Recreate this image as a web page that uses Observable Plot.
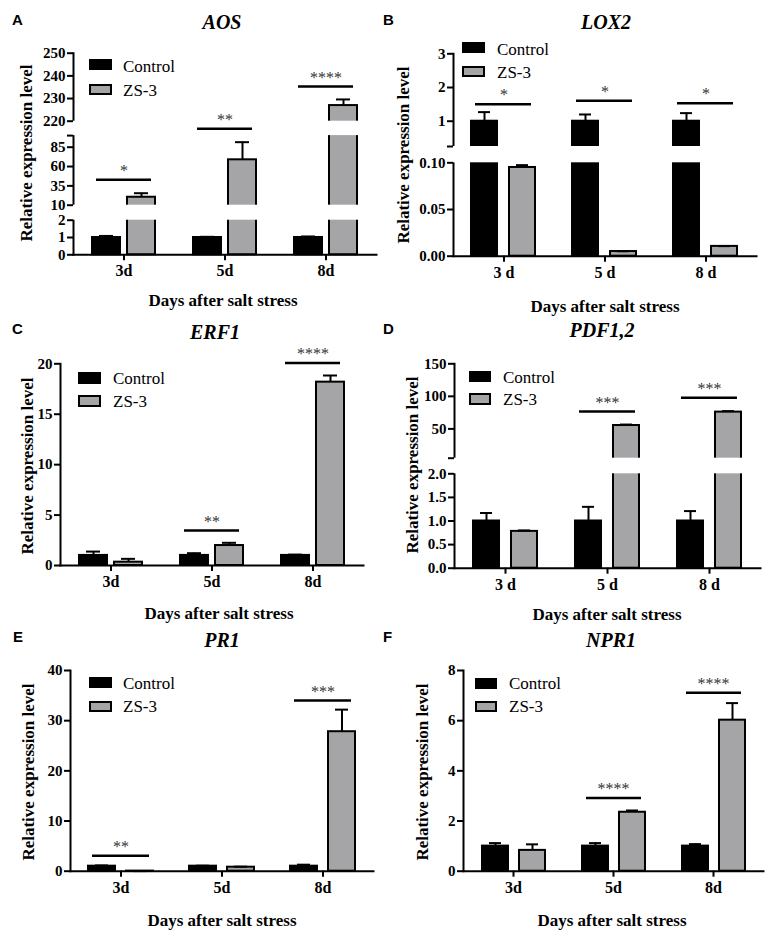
<!DOCTYPE html>
<html>
<head>
<meta charset="utf-8">
<script src="https://cdn.jsdelivr.net/npm/d3@7"></script>
<script src="https://cdn.jsdelivr.net/npm/@observablehq/plot@0.6"></script>
<style>
  html, body { margin: 0; padding: 0; background: #fff; }
  #fig { position: relative; width: 767px; height: 931px; overflow: hidden; font-family: "Liberation Serif", "Times New Roman", serif; color: #000; }
  .panel { position: absolute; width: 384px; height: 310px; }
  .panel svg { position: absolute; left: 0; top: 0; overflow: visible; }
  .letter { position: absolute; font-family: "Liberation Sans", Arial, sans-serif; font-weight: bold; font-size: 15px; line-height: 1; transform: translateY(-50%); }
  .title { position: absolute; font-family: "Liberation Serif", "Times New Roman", serif; font-weight: bold; font-style: italic; font-size: 20px; line-height: 1; white-space: nowrap; transform: translate(-50%, -50%); }
  .ytitle { position: absolute; font-family: "Liberation Serif", "Times New Roman", serif; font-weight: bold; font-size: 17px; line-height: 1; white-space: nowrap; transform: translate(-50%, -50%) rotate(-90deg); }
  .xtitle { position: absolute; font-family: "Liberation Serif", "Times New Roman", serif; font-weight: bold; font-size: 17px; line-height: 1; white-space: nowrap; transform: translate(-50%, -50%); }
  .sw { position: absolute; box-sizing: border-box; border: 2px solid #000; }
  .lt { position: absolute; font-family: "Liberation Serif", "Times New Roman", serif; font-size: 17px; line-height: 1; white-space: nowrap; transform: translateY(-50%); }
</style>
</head>
<body>
<div id="fig"></div>
<script>
// ---------- shared categories ----------
const days = ["3d", "5d", "8d"];
const daysSpaced = ["3 d", "5 d", "8 d"];
const groups = ["Control", "ZS-3"];
const xTitleText = "Days after salt stress";
const yTitleText = "Relative expression level";

// ---------- A: AOS ----------
const aosControl = [1.0, 1.0, 1.0];
const aosControlErr = [0.09, 0.04, 0.06];
const aosZS3 = [20.3, 68.7, 226.9];
const aosZS3Err = [5.2, 22.8, 2.7];
const aosSigDays = ["3d", "5d", "8d"];
const aosSigY = [43, 157, 235.3];
const aosSigStars = ["*", "**", "****"];
const aosBreaks = [0, 2, 10, 100, 220, 250];
const aosTicks = [0, 1, 2, 10, 35, 60, 85, 100, 220, 230, 240, 250];
const aosHiddenTicks = [100];

// ---------- B: LOX2 ----------
const loxControl = [1.0, 1.0, 1.0];
const loxControlErr = [0.27, 0.2, 0.24];
const loxZS3 = [0.095, 0.005, 0.0105];
const loxZS3Err = [0.0025, 0.0003, 0.0003];
const loxSigDays = ["3 d", "5 d", "8 d"];
const loxSigY = [1.5, 1.61, 1.53];
const loxSigStars = ["*", "*", "*"];
const loxBreaks = [0, 0.1, 0.25, 3];
const loxTicks = [0, 0.05, 0.1, 0.25, 1, 2, 3];
const loxHiddenTicks = [0.25];

// ---------- C: ERF1 ----------
const erfControl = [1.0, 1.0, 1.0];
const erfControlErr = [0.38, 0.22, 0.08];
const erfZS3 = [0.33, 1.98, 18.18];
const erfZS3Err = [0.33, 0.27, 0.66];
const erfSigDays = ["5d", "8d"];
const erfSigY = [3.47, 20.07];
const erfSigStars = ["**", "****"];
const erfBreaks = [0, 20];
const erfTicks = [0, 5, 10, 15, 20];
const erfHiddenTicks = [];

// ---------- D: PDF1,2 ----------
const pdfControl = [1.0, 1.0, 1.0];
const pdfControlErr = [0.17, 0.3, 0.21];
const pdfZS3 = [0.78, 55.2, 75.8];
const pdfZS3Err = [0.02, 1.5, 1.5];
const pdfSigDays = ["5 d", "8 d"];
const pdfSigY = [76.8, 97.9];
const pdfSigStars = ["***", "***"];
const pdfBreaks = [0, 2, 5, 150];
const pdfTicks = [0, 0.5, 1, 1.5, 2, 5, 50, 100, 150];
const pdfHiddenTicks = [5];

// ---------- E: PR1 ----------
const prControl = [1.0, 1.0, 1.0];
const prControlErr = [0.15, 0.1, 0.3];
const prZS3 = [0.02, 0.8, 27.8];
const prZS3Err = [0, 0.1, 4.4];
const prSigDays = ["3d", "8d"];
const prSigY = [3.1, 34.0];
const prSigStars = ["**", "***"];
const prBreaks = [0, 40];
const prTicks = [0, 10, 20, 30, 40];
const prHiddenTicks = [];

// ---------- F: NPR1 ----------
const nprControl = [1.0, 1.0, 1.0];
const nprControlErr = [0.12, 0.12, 0.08];
const nprZS3 = [0.83, 2.35, 6.02];
const nprZS3Err = [0.24, 0.07, 0.68];
const nprSigDays = ["5d", "8d"];
const nprSigY = [2.92, 7.11];
const nprSigStars = ["****", "****"];
const nprBreaks = [0, 8];
const nprTicks = [0, 2, 4, 6, 8];
const nprHiddenTicks = [];

// ---------- styles ----------
const colControl = "#000000";
const colZS3 = "#a5a5a8";
const colStars = "#333333";

const fmtPlain = hidden => d => hidden.includes(d) ? "" : String(d);
const fmtFixed = (hidden, below, digits) => d => hidden.includes(d) ? "" : (d <= below ? d.toFixed(digits) : String(d));

const panels = [
  {letter: "A", gene: "AOS", cats: days, control: aosControl, controlErr: aosControlErr, zs3: aosZS3, zs3Err: aosZS3Err,
   sigDays: aosSigDays, sigY: aosSigY, sigStars: aosSigStars, breaks: aosBreaks, ticks: aosTicks, fmt: fmtPlain(aosHiddenTicks)},
  {letter: "B", gene: "LOX2", cats: daysSpaced, control: loxControl, controlErr: loxControlErr, zs3: loxZS3, zs3Err: loxZS3Err,
   sigDays: loxSigDays, sigY: loxSigY, sigStars: loxSigStars, breaks: loxBreaks, ticks: loxTicks, fmt: fmtFixed(loxHiddenTicks, 0.1, 2)},
  {letter: "C", gene: "ERF1", cats: days, control: erfControl, controlErr: erfControlErr, zs3: erfZS3, zs3Err: erfZS3Err,
   sigDays: erfSigDays, sigY: erfSigY, sigStars: erfSigStars, breaks: erfBreaks, ticks: erfTicks, fmt: fmtPlain(erfHiddenTicks)},
  {letter: "D", gene: "PDF1,2", cats: daysSpaced, control: pdfControl, controlErr: pdfControlErr, zs3: pdfZS3, zs3Err: pdfZS3Err,
   sigDays: pdfSigDays, sigY: pdfSigY, sigStars: pdfSigStars, breaks: pdfBreaks, ticks: pdfTicks, fmt: fmtFixed(pdfHiddenTicks, 2, 1)},
  {letter: "E", gene: "PR1", cats: days, control: prControl, controlErr: prControlErr, zs3: prZS3, zs3Err: prZS3Err,
   sigDays: prSigDays, sigY: prSigY, sigStars: prSigStars, breaks: prBreaks, ticks: prTicks, fmt: fmtPlain(prHiddenTicks)},
  {letter: "F", gene: "NPR1", cats: days, control: nprControl, controlErr: nprControlErr, zs3: nprZS3, zs3Err: nprZS3Err,
   sigDays: nprSigDays, sigY: nprSigY, sigStars: nprSigStars, breaks: nprBreaks, ticks: nprTicks, fmt: fmtPlain(nprHiddenTicks)}
];

// ---------- layout (panel-local pixels) ----------
const layouts = [
  {left: 0, top: 0, width: 384, axisLeft: 72, axisRight: 367, step: 101.35, yRange: [254.3, 219.7, 204.7, 135.1, 120.7, 52.7],
   pi: 0.2, po: 0.53, title: [222, 22], letter: [12, 19], yTitle: [26, 153], xTitle: [223, 300],
   legend: {x: 89, w: 23, textX: 123, rows: [[59, 11, 65.5], [84, 11, 89.5]]}},
  {left: 384, top: 0, width: 383, axisLeft: 68, axisRight: 370, step: 101.35, yRange: [255.7, 162.3, 146, 53.3],
   pi: 0.31, po: 0.47, title: [222, 22], letter: [-1, 19], yTitle: [19, 155], xTitle: [221, 306],
   legend: {x: 78, w: 23, textX: 113, rows: [[42, 11, 48.5], [66, 11, 72]]}},
  {left: 0, top: 310, width: 384, axisLeft: 60, axisRight: 365, step: 101, yRange: [255, 53.3],
   pi: 0.2, po: 0.53, title: [215, 22], letter: [12, 18], yTitle: [27, 156], xTitle: [219, 303],
   legend: {x: 78, w: 23, textX: 113, rows: [[62, 12, 68], [85, 12, 91]]}},
  {left: 384, top: 310, width: 383, axisLeft: 70, axisRight: 378, step: 102, yRange: [257.7, 163.3, 147.7, 53.3],
   pi: 0.31, po: 0.49, title: [218, 20], letter: [-1, 18], yTitle: [28, 155], xTitle: [223, 304],
   legend: {x: 85, w: 22, textX: 119, rows: [[61, 11, 67], [83, 12, 89]]}},
  {left: 0, top: 620, width: 384, axisLeft: 70, axisRight: 375, step: 101.3, yRange: [250.7, 50],
   pi: 0.29, po: 0.47, title: [222, 20], letter: [13, 16], yTitle: [28, 152], xTitle: [222, 300],
   legend: {x: 89, w: 23, textX: 123, rows: [[57, 11, 63], [81, 11, 86]]}},
  {left: 384, top: 620, width: 383, axisLeft: 79, axisRight: 379, step: 100, yRange: [250.7, 50],
   pi: 0.31, po: 0.49, title: [227, 20], letter: [-1, 16], yTitle: [38, 152], xTitle: [228, 300],
   legend: {x: 91, w: 22, textX: 125, rows: [[58, 11, 63], [81, 11, 86]]}}
];

const H = 310;
const fig = document.getElementById("fig");

function addText(parent, cls, text, x, y) {
  const el = document.createElement("div");
  el.className = cls;
  el.textContent = text;
  el.style.left = x + "px";
  el.style.top = y + "px";
  parent.appendChild(el);
  return el;
}

panels.forEach((p, idx) => {
  const L = layouts[idx];
  const rows = p.cats.flatMap((d, i) => [
    {day: d, group: "Control", value: p.control[i], hi: p.control[i] + p.controlErr[i]},
    {day: d, group: "ZS-3", value: p.zs3[i], hi: p.zs3[i] + p.zs3Err[i]}
  ]);
  const sig = p.sigDays.map((d, i) => ({day: d, y: p.sigY[i], stars: p.sigStars[i]}));
  const gaps = [];
  for (let k = 1; k + 1 < p.breaks.length; k += 2) gaps.push({y1: p.breaks[k], y2: p.breaks[k + 1]});

  const svg = Plot.plot({
    width: L.width,
    height: H,
    marginLeft: L.axisLeft,
    marginRight: L.width - L.axisRight,
    marginTop: L.yRange[L.yRange.length - 1],
    marginBottom: H - L.yRange[0],
    style: {fontFamily: "'Liberation Serif', 'Times New Roman', serif", fontSize: "15px", fontWeight: "bold", background: "transparent", color: "#000", overflow: "visible"},
    fx: {domain: p.cats, range: [L.axisLeft, L.axisLeft + L.step * p.cats.length], padding: 0, label: null},
    x: {domain: groups, paddingInner: L.pi, paddingOuter: L.po, axis: null},
    y: {type: "linear", domain: p.breaks, range: L.yRange, label: null},
    color: {domain: groups, range: [colControl, colZS3]},
    marks: [
      Plot.barY(rows, {fx: "day", x: "group", y: "value", fill: "group", stroke: "#000", strokeWidth: 2}),
      Plot.ruleX(rows, {fx: "day", x: "group", y1: "value", y2: "hi", stroke: "#000", strokeWidth: 2}),
      Plot.tickY(rows, {fx: "day", x: "group", y: "hi", stroke: "#000", strokeWidth: 2, insetLeft: 7, insetRight: 7}),
      Plot.frame({anchor: "left", facet: "super", stroke: "#000", strokeWidth: 2}),
      Plot.frame({anchor: "bottom", facet: "super", stroke: "#000", strokeWidth: 2}),
      Plot.rect(gaps, {y1: "y1", y2: "y2", fill: "#fff", insetLeft: -12, insetRight: -12}),
      Plot.axisY({ticks: p.ticks, tickFormat: p.fmt, tickSize: 6, tickPadding: 2, strokeWidth: 2, fontSize: 15, label: null}),
      Plot.ruleY(sig, {fx: "day", y: "y", x1: d => "Control", x2: d => "ZS-3", stroke: "#000", strokeWidth: 2.5, insetLeft: 4, insetRight: 4}),
      Plot.text(sig, {fx: "day", y: "y", text: "stars", dy: -9, fontSize: 16, fontWeight: "normal", fill: colStars}),
      Plot.axisFx({anchor: "bottom", tickSize: 6, tickPadding: 4, strokeWidth: 2, fontSize: 16, label: null})
    ]
  });

  const div = document.createElement("div");
  div.className = "panel";
  div.style.left = L.left + "px";
  div.style.top = L.top + "px";
  div.style.width = L.width + "px";
  div.appendChild(svg);
  fig.appendChild(div);

  addText(div, "letter", p.letter, L.letter[0], L.letter[1]);
  addText(div, "title", p.gene, L.title[0], L.title[1]);
  addText(div, "ytitle", yTitleText, L.yTitle[0], L.yTitle[1]);
  addText(div, "xtitle", xTitleText, L.xTitle[0], L.xTitle[1]);
  groups.forEach((g, gi) => {
    const [top, h, ty] = L.legend.rows[gi];
    const sw = document.createElement("div");
    sw.className = "sw";
    sw.style.left = L.legend.x + "px";
    sw.style.top = top + "px";
    sw.style.width = L.legend.w + "px";
    sw.style.height = h + "px";
    sw.style.background = gi === 0 ? colControl : colZS3;
    div.appendChild(sw);
    addText(div, "lt", g, L.legend.textX, ty);
  });
});
</script>
</body>
</html>
